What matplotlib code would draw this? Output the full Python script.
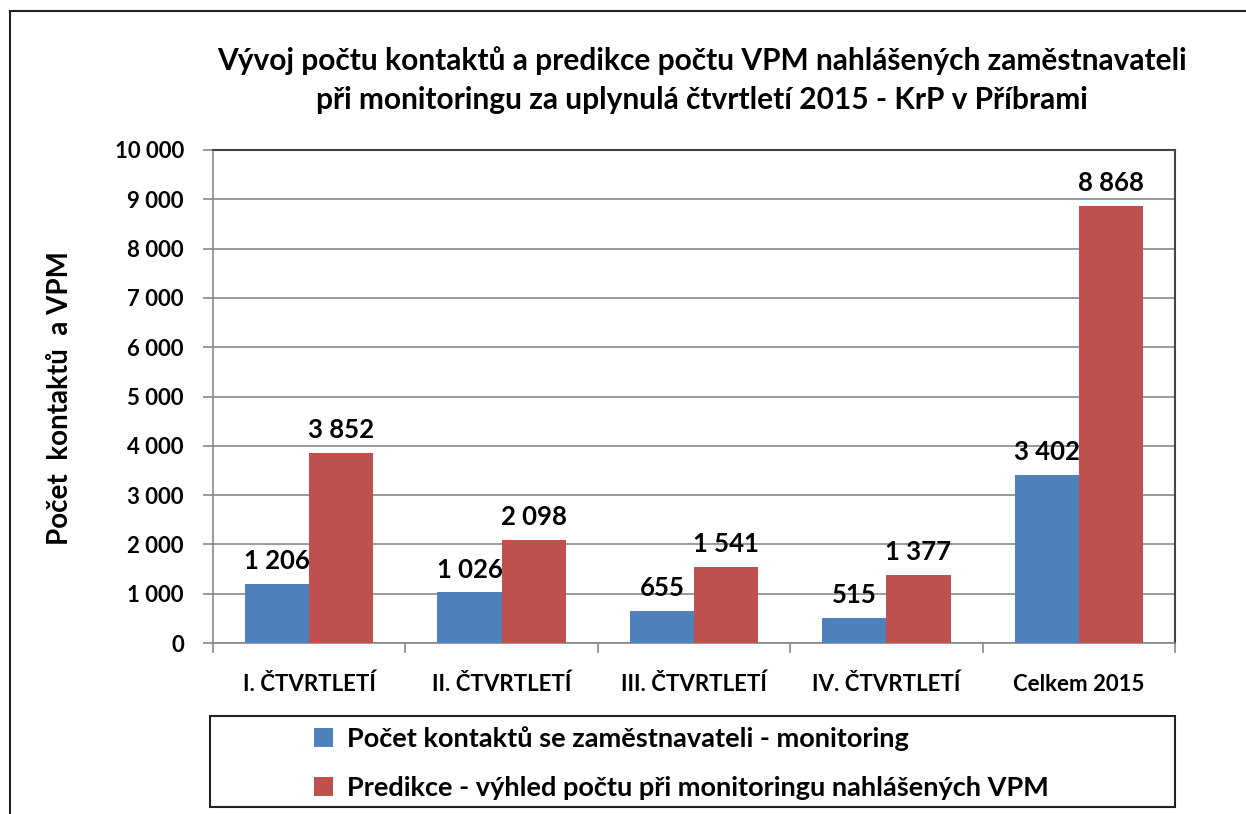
import numpy as np
import matplotlib
matplotlib.use("Agg")
import matplotlib.pyplot as plt
from matplotlib.patches import Rectangle, Patch
from matplotlib.lines import Line2D

categories = ["I. ČTVRTLETÍ", "II. ČTVRTLETÍ", "III. ČTVRTLETÍ", "IV. ČTVRTLETÍ", "Celkem 2015"]
kontakty = [1206, 1026, 655, 515, 3402]
predikce = [3852, 2098, 1541, 1377, 8868]
series_names = ["Počet kontaktů se zaměstnavateli - monitoring",
                "Predikce - výhled počtu při monitoringu nahlášených VPM"]
title = ("Vývoj počtu kontaktů a predikce počtu VPM nahlášených zaměstnavateli\n"
         "při monitoringu za uplynulá čtvrtletí 2015 - KrP v Příbrami")
ylabel = "Počet  kontaktů  a VPM"

blue = "#4F81BD"
red = "#C0504D"

plt.rcParams['font.family'] = ['Lato', 'DejaVu Sans']
plt.rcParams['font.weight'] = 'bold'

W, H = 1246, 814
fig = plt.figure(figsize=(W / 100, H / 100), dpi=100)

def fx(px):
    return px / W

def fy(py):
    return 1 - py / H

# outer chart frame (runs off right/bottom edges)
fig.add_artist(Line2D([fx(10), fx(10)], [fy(11), 0], color="#222222", lw=1.5, transform=fig.transFigure))
fig.add_artist(Line2D([fx(10), 1], [fy(11), fy(11)], color="#222222", lw=1.5, transform=fig.transFigure))

ax = fig.add_axes([fx(213), fy(643), fx(1175) - fx(213), fy(150) - fy(643)])

x = np.arange(len(categories))
w = 1 / 3
b1 = ax.bar(x - w / 2, kontakty, w, color=blue, zorder=3)
b2 = ax.bar(x + w / 2, predikce, w, color=red, zorder=3)

def fmt(v):
    return f"{v:,}".replace(",", " ")

for rect, v in zip(b1, kontakty):
    ax.text(rect.get_x() + rect.get_width() / 2, v + 220, fmt(v), ha="center", va="bottom",
            fontsize=18.5, fontweight="bold", zorder=4)
for rect, v in zip(b2, predikce):
    ax.text(rect.get_x() + rect.get_width() / 2, v + 220, fmt(v), ha="center", va="bottom",
            fontsize=18.5, fontweight="bold", zorder=4)

ax.set_xlim(-0.5, len(categories) - 0.5)
ax.set_ylim(0, 10000)
yt = np.arange(0, 10001, 1000)
ax.set_yticks(yt)
ax.set_yticklabels([fmt(v) for v in yt], fontsize=16, fontweight="bold")
ax.set_xticks(x)
ax.set_xticklabels(categories, fontsize=16, fontweight="bold")
ax.set_xticks(np.arange(-0.5, len(categories)), minor=True)
ax.tick_params(axis="x", which="major", length=0, pad=22)
ax.tick_params(axis="x", which="minor", length=7, color="#888888", width=1.2)
ax.tick_params(axis="y", length=7, color="#888888", width=1.2, pad=14)
ax.yaxis.grid(True, color="#888888", lw=1.2, zorder=0)
ax.set_axisbelow(True)

for s in ["top", "right"]:
    ax.spines[s].set_color("#444444")
    ax.spines[s].set_linewidth(1.5)
for s in ["left", "bottom"]:
    ax.spines[s].set_color("#888888")
    ax.spines[s].set_linewidth(1.2)

fig.text(fx(60), fy(398), ylabel, rotation=90, ha="center", va="center", fontsize=20, fontweight="bold")
fig.text(fx(702), fy(80), title, ha="center", va="center", fontsize=21.5, fontweight="bold", linespacing=1.45)

# legend box
fig.add_artist(Rectangle((fx(210), fy(807)), fx(1175) - fx(210), fy(716) - fy(807),
                         transform=fig.transFigure, fill=False, edgecolor="#222222", lw=1.5))
handles = [Patch(facecolor=blue), Patch(facecolor=red)]
leg = fig.legend(handles, series_names, loc="center left", bbox_to_anchor=(fx(290), fy(763)),
                 frameon=False, prop={"size": 19.5, "weight": "bold"}, handlelength=0.7,
                 handleheight=0.7, handletextpad=0.5, labelspacing=0.95)

fig.savefig("out.png", dpi=100, facecolor="white")
